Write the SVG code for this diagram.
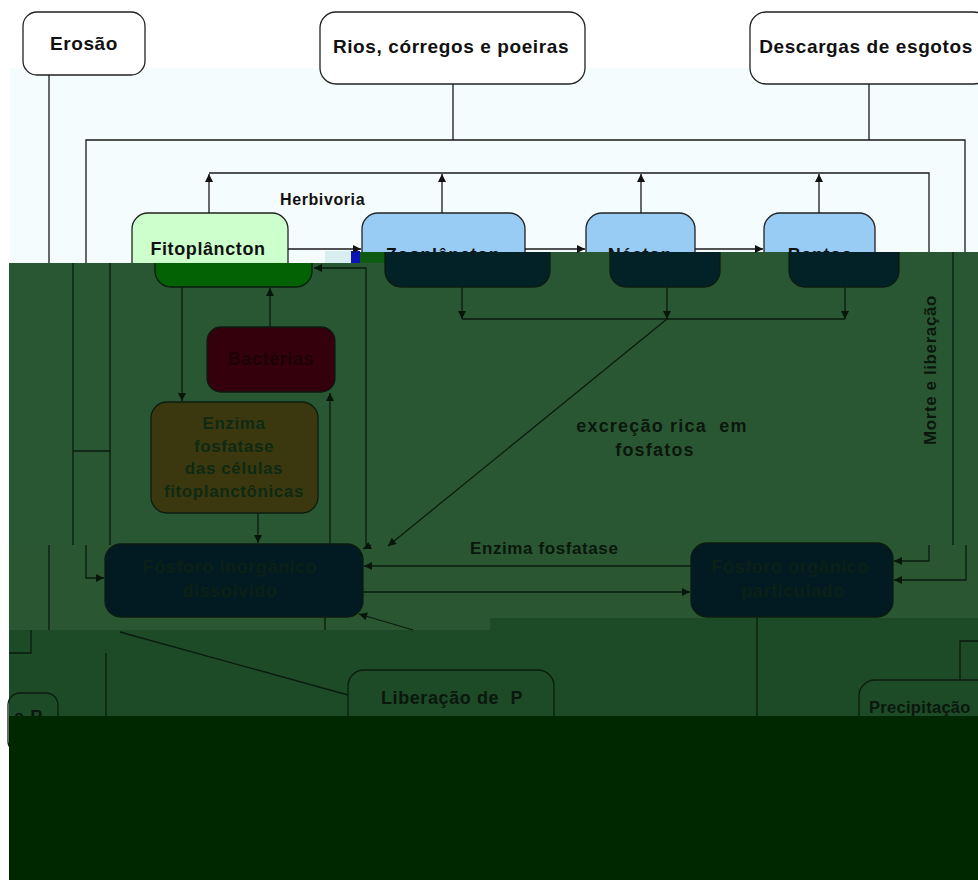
<svg xmlns="http://www.w3.org/2000/svg" width="978" height="882" viewBox="0 0 978 882">
<style>
.t{font-family:"Liberation Sans",Arial,sans-serif;font-weight:bold;letter-spacing:0.6px;white-space:pre}
.lt{font-size:19px;fill:#111}
.mt{font-size:18px;fill:#111}
.dt{font-size:18px;fill:#0a170c}
.bx{stroke:#222;stroke-width:1.3}
.dbx{stroke:#0b1c10;stroke-width:1.3}
.c{fill:none;stroke:#1a1a1a;stroke-width:1.3}
.dc{fill:none;stroke:#0a1c0f;stroke-width:1.3}
</style>
<defs>
<marker id="a" viewBox="0 0 10 10" refX="10" refY="5" markerWidth="9" markerHeight="8" markerUnits="userSpaceOnUse" orient="auto"><path d="M0,0L10,5L0,10z" fill="#111"/></marker>
<marker id="d" viewBox="0 0 10 10" refX="10" refY="5" markerWidth="9" markerHeight="8" markerUnits="userSpaceOnUse" orient="auto"><path d="M0,0L10,5L0,10z" fill="#06170a"/></marker>
<clipPath id="ct"><path d="M0 0H978V252H350V263H0Z"/></clipPath>
<clipPath id="cb"><path d="M9 263H350V252H978V545H9Z"/></clipPath>
</defs>
<g id="background">
<rect x="0" y="0" width="978" height="882" fill="#ffffff"/>
<rect x="10" y="68" width="968" height="195" fill="#f5fcfd"/>
<path d="M9 263H350V252H978V545H9Z" fill="#2a5733"/>
<rect x="9" y="545" width="969" height="85" fill="#2a5632"/>
<path d="M9 630H490V618H978V716H9Z" fill="#1d4a27"/>
<rect x="325" y="251" width="26" height="12" fill="#d8eef0"/>
<rect x="351" y="251" width="9" height="12" fill="#0a14b4"/>
<rect x="360" y="252" width="25" height="11" fill="#0d5a12"/>
</g>
<g id="erosao"><rect class="bx" x="23" y="12" width="122" height="63" rx="14" fill="#fff"/><text class="t lt" x="84" y="50" text-anchor="middle">Erosão</text></g>
<g id="rios"><rect class="bx" x="320" y="12" width="265" height="72" rx="16" fill="#fff"/><text class="t lt" x="451" y="53" text-anchor="middle">Rios, córregos e poeiras</text></g>
<g id="descargas"><rect class="bx" x="750" y="12" width="240" height="72" rx="16" fill="#fff"/><text class="t lt" x="866" y="53" text-anchor="middle">Descargas de esgotos</text></g>
<g id="fitoplancton">
<g clip-path="url(#ct)"><rect class="bx" x="132" y="213" width="156" height="74" rx="16" fill="#ccffcc"/><text class="t mt" x="208" y="255" text-anchor="middle">Fitoplâncton</text></g>
<g clip-path="url(#cb)"><rect class="dbx" x="155" y="213" width="157" height="74" rx="16" fill="#036203"/></g>
</g>
<g id="zooplancton">
<g clip-path="url(#ct)"><rect class="bx" x="362" y="213" width="163" height="74" rx="16" fill="#99ccf5"/><text class="t mt" x="443" y="261" text-anchor="middle">Zooplâncton</text></g>
<g clip-path="url(#cb)"><rect class="dbx" x="385" y="213" width="165" height="74" rx="16" fill="#022228"/></g>
</g>
<g id="necton">
<g clip-path="url(#ct)"><rect class="bx" x="586" y="213" width="109" height="74" rx="16" fill="#99ccf5"/><text class="t mt" x="640" y="261" text-anchor="middle">Nécton</text></g>
<g clip-path="url(#cb)"><rect class="dbx" x="610" y="213" width="110" height="74" rx="16" fill="#022228"/></g>
</g>
<g id="bentos">
<g clip-path="url(#ct)"><rect class="bx" x="764" y="213" width="111" height="74" rx="16" fill="#99ccf5"/><text class="t mt" x="820" y="261" text-anchor="middle">Bentos</text></g>
<g clip-path="url(#cb)"><rect class="dbx" x="789" y="213" width="110" height="74" rx="16" fill="#022228"/></g>
</g>
<g id="bacterias"><rect class="dbx" x="207" y="327" width="128" height="65" rx="14" fill="#34000c"/><text class="t" font-size="18" fill="#1c0006" x="271" y="365" text-anchor="middle">Bactérias</text></g>
<g id="enzima"><rect class="dbx" x="151" y="402" width="167" height="111" rx="16" fill="#3b380f"/>
<text class="t" font-size="17" fill="#0f2a12" text-anchor="middle"><tspan x="234" y="429">Enzima</tspan><tspan x="234" y="452">fosfatase</tspan><tspan x="234" y="474">das células</tspan><tspan x="234" y="497">fitoplanctônicas</tspan></text></g>
<g id="inorganico"><rect class="dbx" x="105" y="544" width="258" height="73" rx="16" fill="#021b22"/>
<text class="t" font-size="18" fill="#0b2016" text-anchor="middle"><tspan x="230" y="573">Fósforo inorgânico</tspan><tspan x="230" y="597">dissolvido</tspan></text></g>
<g id="organico"><rect class="dbx" x="691" y="543" width="202" height="74" rx="16" fill="#021b22"/>
<text class="t" font-size="18" fill="#0b2016" text-anchor="middle"><tspan x="790" y="573">Fósforo orgânico</tspan><tspan x="793" y="597">particulado</tspan></text></g>
<g id="liberacao"><rect class="dbx" x="348" y="670" width="206" height="80" rx="16" fill="none"/><text class="t dt" x="452" y="704" text-anchor="middle">Liberação de  P</text></g>
<g id="partial-p"><rect class="dbx" x="8" y="693" width="50" height="60" rx="12" fill="none"/><text class="t dt" x="14" y="723">e P</text></g>
<g id="precipitacao"><rect class="dbx" x="859" y="680" width="140" height="70" rx="16" fill="none"/><text class="t dt" x="869" y="713" style="font-size:16.5px;letter-spacing:0.3px">Precipitação</text></g>
<g id="labels">
<text class="t" font-size="16" fill="#111" x="280" y="205">Herbivoria</text>
<text class="t dt" x="662" y="432" text-anchor="middle" style="letter-spacing:1.2px">excreção rica  em</text>
<text class="t dt" x="655" y="456" text-anchor="middle" style="letter-spacing:1.2px">fosfatos</text>
<text class="t" font-size="17" fill="#0a170c" transform="translate(936 370) rotate(-90)" text-anchor="middle">Morte e liberação</text>
<text class="t" font-size="17" fill="#0a170c" x="470" y="554">Enzima fosfatase</text>
</g>
<g id="connectors">
<path class="c" d="M49 75V263M86 263V140H965V252M453 84V140M869 84V140M209 173H929V252"/>
<path class="c" d="M209 213V174" marker-end="url(#a)"/>
<path class="c" d="M442 213V174" marker-end="url(#a)"/>
<path class="c" d="M641 213V174" marker-end="url(#a)"/>
<path class="c" d="M819 213V174" marker-end="url(#a)"/>
<path class="c" d="M288 249H361" marker-end="url(#a)"/>
<path class="c" d="M525 249H585" marker-end="url(#a)"/>
<path class="c" d="M695 249H763" marker-end="url(#a)"/>
<path class="dc" d="M73 263V545M110 263V545M73 451H110M953 252V545M462 319H845"/>
<path class="dc" d="M182 287V401" marker-end="url(#d)"/>
<path class="dc" d="M270 327V288" marker-end="url(#d)"/>
<path class="dc" d="M330 545V393" marker-end="url(#d)"/>
<path class="dc" d="M366 545V268H314" marker-end="url(#d)"/>
<path class="dc" d="M258 513V543" marker-end="url(#d)"/>
<path class="dc" d="M462 287V319" marker-end="url(#d)"/>
<path class="dc" d="M667 287V319" marker-end="url(#d)"/>
<path class="dc" d="M845 287V319" marker-end="url(#d)"/>
<path class="dc" d="M667 319L388 546" marker-end="url(#d)"/>
<path class="dc" d="M371 545L363 549" marker-end="url(#d)"/>
<path class="dc" d="M49 545V630M325 617V630"/>
<path class="dc" d="M86 545V578H104" marker-end="url(#d)"/>
<path class="dc" d="M691 566H364" marker-end="url(#d)"/>
<path class="dc" d="M363 592H690" marker-end="url(#d)"/>
<path class="dc" d="M929 545V561H894" marker-end="url(#d)"/>
<path class="dc" d="M966 545V580H894" marker-end="url(#d)"/>
<path class="dc" d="M413 630L359 614" marker-end="url(#d)"/>
<path class="dc" d="M31 630V653H9M106 653V716M120 632L348 695M757 617V716M978 641H960V680"/>
</g>
<g id="bottom-band">
<rect x="9" y="716" width="969" height="164" fill="#002800"/>
</g>
</svg>
